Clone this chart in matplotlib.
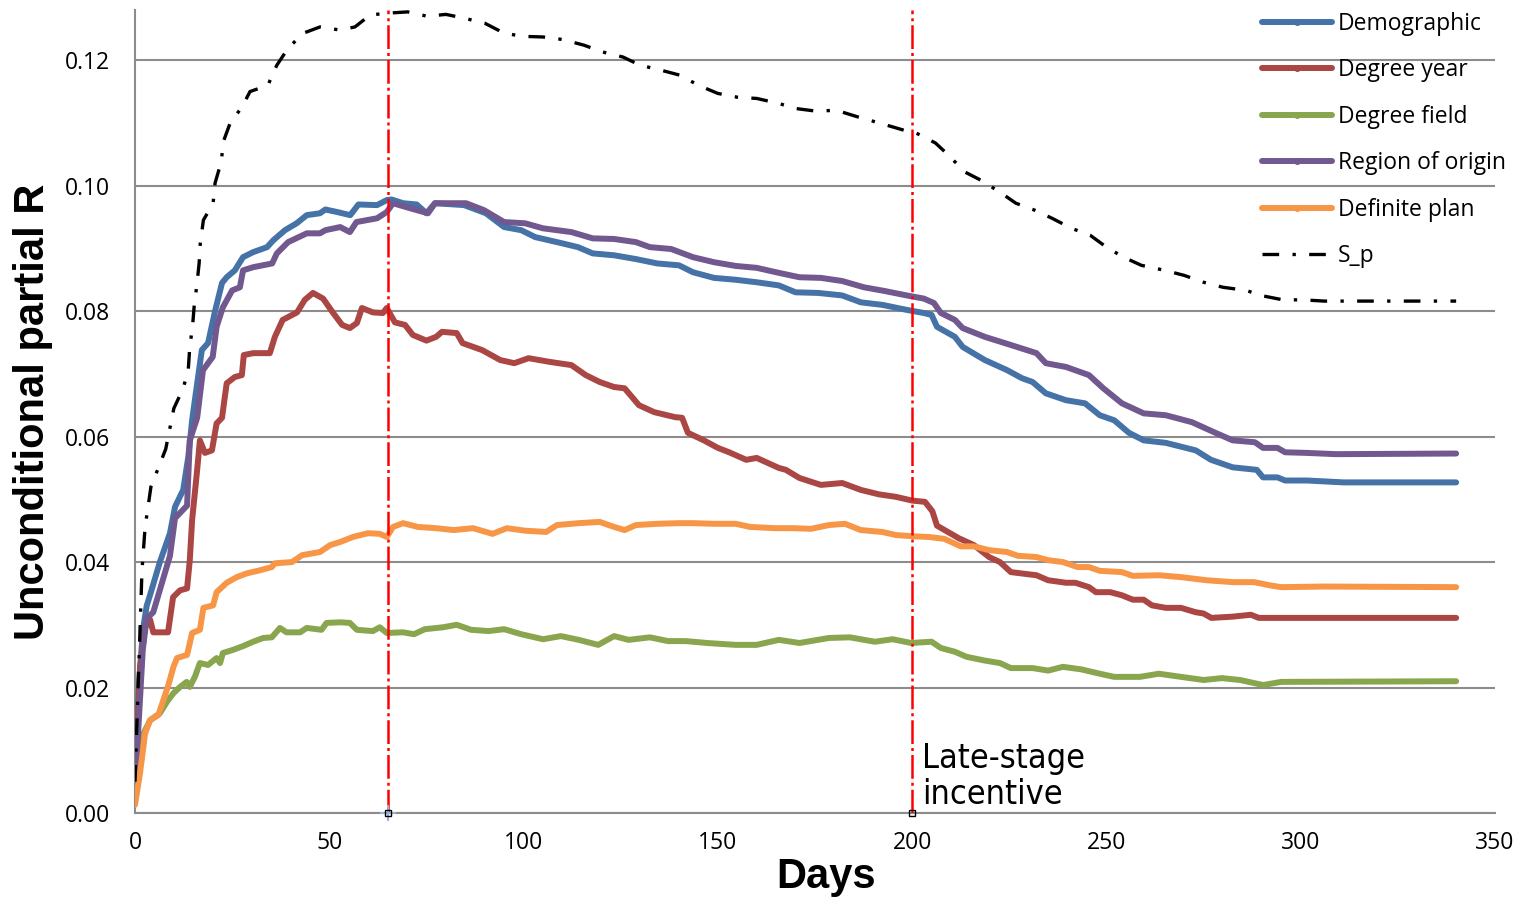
import matplotlib
matplotlib.use("Agg")
import matplotlib.pyplot as plt
from matplotlib.lines import Line2D

# Demographic
demo_days = [0, 1, 2, 3, 4, 6.4, 9, 10.3, 12.4, 13.7, 14.7, 15.4, 17.2, 18.8, 20.6, 22.4, 23.6, 25.7,
             27.8, 30.4, 34, 35.6, 38.6, 41.6, 44.2, 47.6, 49, 52, 55.4, 57.5, 62.3, 64.8, 66, 69, 72.5,
             75, 77.2, 84.7, 90.3, 95, 99.4, 103, 108.6, 114, 117.8, 123.3, 128.9, 134.4, 140, 143.6,
             149, 154.6, 160, 165.7, 170, 175.8, 182, 186.8, 192.3, 198.6, 203, 205, 206.4, 211, 213,
             218.7, 224.4, 228.3, 231, 234.4, 239.6, 244.5, 248.3, 252, 255.8, 259.6, 265.3, 273,
             276.9, 282.5, 288.7, 290.3, 294, 296, 301.6, 311, 340]
demo_vals = [0.005, 0.020, 0.029, 0.033, 0.035, 0.040, 0.0446, 0.0488, 0.0515, 0.0567, 0.0626, 0.0658,
             0.0738, 0.0749, 0.080, 0.0845, 0.0854, 0.0865, 0.0886, 0.0894, 0.0902, 0.0913, 0.0929,
             0.094, 0.0953, 0.0956, 0.0962, 0.0958, 0.0953, 0.097, 0.0969, 0.0977, 0.0978, 0.0972,
             0.097, 0.0956, 0.0972, 0.0969, 0.0956, 0.0934, 0.0929, 0.0918, 0.091, 0.0902, 0.0892,
             0.0889, 0.0883, 0.0876, 0.0873, 0.0862, 0.0853, 0.085, 0.0846, 0.0841, 0.083, 0.0829,
             0.0825, 0.0814, 0.081, 0.0802, 0.0797, 0.0794, 0.0775, 0.0759, 0.0743, 0.0722, 0.0706,
             0.0693, 0.0687, 0.0669, 0.0658, 0.0653, 0.0634, 0.0626, 0.0606, 0.0594, 0.059, 0.0578,
             0.0563, 0.0551, 0.0547, 0.0535, 0.0535, 0.053, 0.053, 0.0527, 0.0527]

# Degree year
year_days = [0, 1.3, 2.6, 3.9, 4.7, 8.5, 9.8, 11.6, 13.4, 14.1, 14.7, 16, 16.7, 18, 19.8, 21, 22.4, 23,
             23.6, 25.7, 27.5, 28, 30.4, 34.7, 36, 38, 41.7, 43.7, 45.8, 48.4, 51, 53.3, 55.3, 57.1,
             58.4, 61.2, 63.8, 64.8, 66.9, 69.5, 71.5, 75, 77.5, 79, 82.8, 84.3, 89.3, 94, 97.6,
             101.3, 106.8, 112.3, 116, 119.6, 123.3, 126, 129.7, 133.6, 139, 140.8, 142.3, 146.4,
             150, 152.9, 157.3, 160, 165.7, 167.5, 171, 176.5, 182, 186.8, 191.4, 195.8, 200, 203.3,
             205.2, 206.4, 209.2, 212, 215.9, 219.8, 222.6, 225.4, 229.3, 232, 235, 239.6, 242,
             245.5, 247.3, 251, 254, 256.8, 259.6, 261.7, 265.3, 269.2, 273, 275, 277, 282.5, 287.2,
             289.2, 340]
year_vals = [0.004, 0.0233, 0.0296, 0.0308, 0.0288, 0.0288, 0.0344, 0.0355, 0.0358, 0.0403, 0.0467,
             0.0547, 0.0594, 0.0574, 0.0578, 0.0621, 0.063, 0.0658, 0.0685, 0.0695, 0.0698, 0.073,
             0.0733, 0.0733, 0.0759, 0.0786, 0.0798, 0.0818, 0.0829, 0.082, 0.0797, 0.0778, 0.0773,
             0.0781, 0.0805, 0.0798, 0.0797, 0.0805, 0.0782, 0.0778, 0.0762, 0.0753, 0.0759, 0.0767,
             0.0765, 0.0749, 0.0738, 0.0722, 0.0717, 0.0725, 0.0719, 0.0714, 0.0698, 0.0687, 0.0679,
             0.0677, 0.065, 0.0639, 0.0631, 0.063, 0.0606, 0.0594, 0.0582, 0.0575, 0.0563, 0.0566,
             0.055, 0.0547, 0.0534, 0.0523, 0.0526, 0.0515, 0.0508, 0.0504, 0.0498, 0.0496, 0.0481,
             0.0458, 0.0448, 0.0438, 0.0427, 0.0408, 0.04, 0.0384, 0.0381, 0.0379, 0.0371, 0.0367,
             0.0367, 0.036, 0.0352, 0.0352, 0.0347, 0.034, 0.034, 0.0331, 0.0327, 0.0327, 0.032,
             0.0318, 0.0311, 0.0313, 0.0316, 0.0311, 0.0311]

# Degree field
field_days = [0, 0.9, 2.2, 3.9, 6.4, 8.2, 9.9, 11.6, 13.3, 14.1, 15.4, 16.7, 18.8, 21, 21.9, 22.6, 25.2,
              27.8, 30.4, 33, 35.2, 37.3, 39, 42.5, 44.2, 48, 49.3, 52.8, 55.3, 57.1, 61.2, 63, 64.8,
              69, 71.8, 74.6, 79.2, 82.8, 86.5, 91, 95, 99.4, 105, 109.6, 114.2, 119.2, 123.3, 127,
              132.5, 137.2, 141.8, 147.2, 154.6, 160, 165.7, 171, 178.6, 184, 190.4, 195, 199.7, 205,
              207.4, 211, 214, 218.7, 222.6, 225.4, 231, 235, 238.8, 243.5, 248.3, 252, 258.6, 263.5,
              269.2, 275, 279.7, 284.4, 290.3, 295, 340]
field_vals = [0.0024, 0.0064, 0.0127, 0.0148, 0.0159, 0.0177, 0.0191, 0.0201, 0.0209, 0.0201, 0.0217,
              0.0239, 0.0236, 0.0247, 0.0239, 0.0255, 0.026, 0.0266, 0.0273, 0.0279, 0.028, 0.0295,
              0.0288, 0.0288, 0.0295, 0.0292, 0.0303, 0.0304, 0.0303, 0.0292, 0.029, 0.0296, 0.0287,
              0.0288, 0.0285, 0.0293, 0.0296, 0.03, 0.0292, 0.029, 0.0293, 0.0285, 0.0277, 0.0282,
              0.0276, 0.0268, 0.0282, 0.0276, 0.028, 0.0274, 0.0274, 0.0271, 0.0268, 0.0268, 0.0276,
              0.0271, 0.0279, 0.028, 0.0273, 0.0277, 0.0271, 0.0273, 0.0263, 0.0257, 0.0249, 0.0243,
              0.0239, 0.0231, 0.0231, 0.0227, 0.0233, 0.0229, 0.0222, 0.0217, 0.0217, 0.0222, 0.0217,
              0.0212, 0.0215, 0.0212, 0.0204, 0.0209, 0.021]

# Region of origin
region_days = [0, 1, 2, 3, 4.7, 9, 10.3, 13.4, 14.1, 16, 17.5, 20, 21, 22.6, 25, 27, 27.8, 30.4, 35.3,
               36.5, 39.4, 44.2, 47.6, 49, 52.8, 55.3, 57, 62.3, 64.8, 66.4, 70.8, 75.4, 77.2, 82,
               85.2, 89.8, 95, 100.4, 105, 112.3, 117.8, 123.3, 128.9, 132.5, 138, 143.6, 149, 154.6,
               160, 165.7, 171, 176.5, 182, 187.6, 193, 198.6, 203, 205.6, 207.4, 211, 213, 218.7,
               225.4, 232, 234.4, 239.6, 245.5, 249.2, 254, 259.6, 265.3, 272, 277.7, 282.5, 288.2,
               290.3, 294, 296, 301.6, 309, 340]
region_vals = [0.004, 0.015, 0.026, 0.031, 0.032, 0.041, 0.047, 0.049, 0.0594, 0.063, 0.0706, 0.0727,
               0.0775, 0.0806, 0.0833, 0.0838, 0.0865, 0.087, 0.0876, 0.0892, 0.091, 0.0924, 0.0924,
               0.0929, 0.0934, 0.0926, 0.0942, 0.0948, 0.0958, 0.0972, 0.0964, 0.0956, 0.0972, 0.0972,
               0.0972, 0.0961, 0.0942, 0.094, 0.0932, 0.0926, 0.0916, 0.0915, 0.091, 0.0902, 0.0899,
               0.0886, 0.0878, 0.0872, 0.0869, 0.0861, 0.0854, 0.0853, 0.0848, 0.0838, 0.0832, 0.0825,
               0.082, 0.0813, 0.0797, 0.0786, 0.0773, 0.0759, 0.0746, 0.0733, 0.0717, 0.0711, 0.0698,
               0.0677, 0.0653, 0.0637, 0.0634, 0.0623, 0.0607, 0.0594, 0.0591, 0.0582, 0.0582, 0.0575,
               0.0574, 0.0572, 0.0573]

# Definite plan
plan_days = [0, 1.3, 2.6, 3.9, 6, 7.3, 8.6, 9.9, 10.8, 13.4, 14.7, 16.7, 17.6, 20.1, 21, 23.6, 26.2,
             28.8, 32.2, 35.2, 36, 40.4, 43, 47.6, 50.2, 52.8, 56.1, 58, 60, 63, 64.8, 66.4, 69, 72.8,
             77.5, 82, 87, 92, 95.7, 100.4, 105.8, 108.6, 114.2, 119.6, 123.3, 126, 128.9, 134.4, 140,
             143.6, 149, 154.6, 158.3, 164.7, 169.3, 174, 178.6, 182.7, 186.8, 192.3, 195.9, 200.5,
             204.3, 208.3, 212.5, 215.9, 219.8, 224.4, 227.2, 232, 235, 238.8, 242.6, 245.5, 248.3,
             254, 256.8, 263.5, 269.2, 275.8, 282.5, 288, 292, 295, 306, 340]
plan_vals = [0.0013, 0.0064, 0.0127, 0.0148, 0.0156, 0.018, 0.0204, 0.0233, 0.0247, 0.0252, 0.0287,
             0.0292, 0.0327, 0.0331, 0.0352, 0.0367, 0.0376, 0.0382, 0.0387, 0.0392, 0.0398, 0.04,
             0.0411, 0.0416, 0.0427, 0.0432, 0.044, 0.0443, 0.0446, 0.0445, 0.044, 0.0456, 0.0462,
             0.0456, 0.0454, 0.0451, 0.0454, 0.0445, 0.0454, 0.045, 0.0448, 0.0459, 0.0462, 0.0464,
             0.0456, 0.0451, 0.0459, 0.0461, 0.0462, 0.0462, 0.0461, 0.0461, 0.0456, 0.0454, 0.0454,
             0.0453, 0.0459, 0.0461, 0.0451, 0.0448, 0.0443, 0.0441, 0.044, 0.0437, 0.0425, 0.0425,
             0.0419, 0.0416, 0.041, 0.0408, 0.0403, 0.04, 0.0392, 0.0392, 0.0386, 0.0384, 0.0378,
             0.0379, 0.0376, 0.0371, 0.0368, 0.0368, 0.0363, 0.036, 0.0361, 0.036]

# S_p
sp_days = [0, 0.8, 1.8, 2.6, 4.1, 7.9, 10, 12.4, 13.7, 14.1, 14.8, 15.2, 15.9, 16.5, 16.8, 17.6, 20.1,
           20.6, 22.1, 22.9, 24.5, 27.5, 29.6, 34.2, 36.5, 39.4, 43.3, 47.6, 52.8, 56.6, 60.5, 65,
           70.2, 75.2, 80, 84.7, 90, 95, 99.8, 105, 110, 115.5, 120.4, 125.6, 130, 135.4, 140.3, 145,
           150, 155, 160, 165.7, 170, 175, 180.6, 185.8, 190.9, 195.9, 199.7, 201, 206, 209.3, 213.5,
           217.6, 222.5, 226.7, 231.5, 236, 241, 245.8, 250, 254.4, 259, 265, 270, 275, 280, 286,
           289.7, 295.4, 300.6, 306, 340]
sp_vals = [0.005, 0.020, 0.0387, 0.0456, 0.052, 0.058, 0.0645, 0.0677, 0.0706, 0.0743, 0.0775, 0.0806,
           0.0841, 0.0876, 0.0908, 0.0945, 0.0972, 0.1004, 0.1036, 0.1073, 0.110, 0.1125, 0.115, 0.116,
           0.1192, 0.1219, 0.1243, 0.1253, 0.1248, 0.1253, 0.1272, 0.1275, 0.1277, 0.127, 0.1273,
           0.1267, 0.1259, 0.1243, 0.1238, 0.1237, 0.1233, 0.1224, 0.1213, 0.1205, 0.1192, 0.1184,
           0.1176, 0.116, 0.1147, 0.1141, 0.1139, 0.1131, 0.1123, 0.1119, 0.112, 0.111, 0.1101,
           0.1092, 0.1085, 0.1084, 0.1068, 0.1049, 0.1022, 0.1009, 0.099, 0.0972, 0.0961, 0.0948,
           0.0932, 0.0921, 0.0902, 0.0886, 0.0873, 0.0865, 0.0857, 0.0846, 0.0838, 0.0833, 0.0825,
           0.0818, 0.0818, 0.0816, 0.0816]

incentive_days = [65, 200]
x_ticks = [0, 50, 100, 150, 200, 250, 300, 350]
y_ticks = [0.00, 0.02, 0.04, 0.06, 0.08, 0.10, 0.12]

series = [
    ("Demographic", demo_days, demo_vals, "#4572A7"),
    ("Degree year", year_days, year_vals, "#AA4643"),
    ("Degree field", field_days, field_vals, "#89A54E"),
    ("Region of origin", region_days, region_vals, "#71588F"),
    ("Definite plan", plan_days, plan_vals, "#F79646"),
]

tick_font = "Open Sans"
grey = "#8c8c8c"

fig = plt.figure(figsize=(15.22, 9.0), dpi=100)
ax = fig.add_axes([135 / 1522, 1 - 813 / 900, 1360 / 1522, 803 / 900])

handles = []
for name, d, v, c in series:
    ax.plot(d, v, color=c, lw=4.3, solid_joinstyle="round", solid_capstyle="round", zorder=3)
    handles.append(Line2D([0], [0], color=c, lw=4.3, marker="o", ms=4, solid_capstyle="round"))

sp_line, = ax.plot(sp_days, sp_vals, color="black", lw=2.4, zorder=4)
sp_line.set_dashes((5, 4, 1, 4))
sp_handle = Line2D([0], [0], color="black", lw=2.4)
sp_handle.set_dashes((5, 4, 1, 4))
handles.append(sp_handle)

# incentive markers
for day in incentive_days:
    vl = ax.axvline(day, color="#ff0000", lw=1.8, zorder=5)
    vl.set_dashes((9.5, 1.6, 1.2, 1.6))
ax.plot([incentive_days[0]], [0], marker="+", color="#9ab0d8", ms=12, mew=1.5,
        clip_on=False, zorder=6)
ax.plot(incentive_days, [0, 0], marker="s", ms=4, mfc="none", mec="black", mew=1,
        ls="none", clip_on=False, zorder=6)

ax.text(202.5, 0.0003, "Late-stage\nincentive", fontsize=24.5, ha="left", va="bottom",
        linespacing=1.12, family="DejaVu Sans", fontstretch="condensed", zorder=6)

ax.set_xlim(0, 350)
ax.set_ylim(0, 0.128)
ax.set_xticks(x_ticks)
ax.set_yticks(y_ticks)
ax.set_yticklabels([f"{t:.2f}" for t in y_ticks])
ax.tick_params(length=0, labelsize=16.5)
ax.tick_params(axis="y", pad=18)
ax.tick_params(axis="x", pad=13)
for lab in ax.get_xticklabels() + ax.get_yticklabels():
    lab.set_family(tick_font)

ax.grid(axis="y", color=grey, lw=1.5)
ax.set_axisbelow(True)
for s in ["top", "right"]:
    ax.spines[s].set_visible(False)
for s in ["left", "bottom"]:
    ax.spines[s].set_color(grey)
    ax.spines[s].set_linewidth(1.5)

ax.set_xlabel("Days", fontsize=30, fontweight="bold", family="Liberation Sans")
ax.xaxis.set_label_coords(0.508, -0.0797)
ax.xaxis.label.set_va("center")
ax.set_ylabel("Unconditional partial R", fontsize=30, fontweight="bold", family="Liberation Sans")
ax.yaxis.set_label_coords(-0.075, 0.4994)
ax.yaxis.label.set_va("center")

labels = [s[0] for s in series] + ["S_p"]
leg = ax.legend(handles, labels, loc="upper left", bbox_to_anchor=(1262 / 1522, 1 - 12 / 900),
                bbox_transform=fig.transFigure, frameon=False, borderpad=0, borderaxespad=0,
                handlelength=3.05, handletextpad=0.25, labelspacing=0.98, numpoints=1,
                prop={"family": tick_font, "size": 16.5})

fig.savefig("out.png", dpi=100)
